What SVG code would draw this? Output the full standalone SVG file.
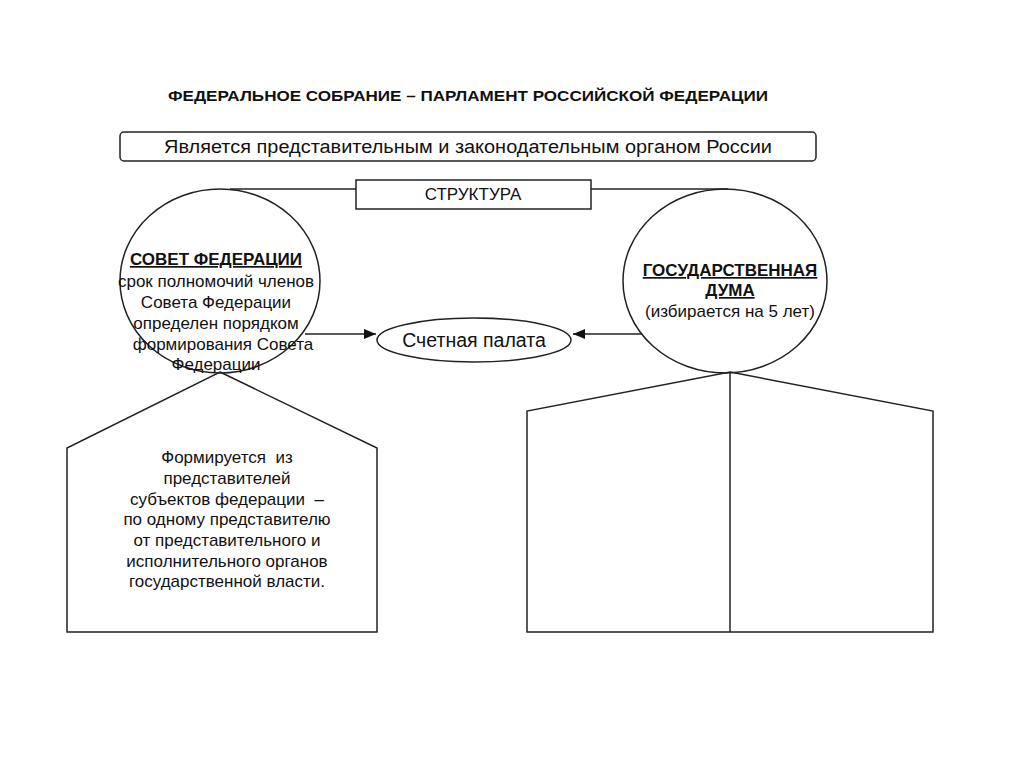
<svg xmlns="http://www.w3.org/2000/svg" width="1024" height="767" viewBox="0 0 1024 767">
<style>
.s{fill:none;stroke:#222;stroke-width:1.5}
.w{fill:#fff;stroke:#222;stroke-width:1.5}
text{font-family:"Liberation Sans",Arial,sans-serif;fill:#111;text-anchor:middle}
.t15{font-size:17px}
.b{font-weight:bold;text-decoration:underline}
</style>
<defs>
<marker id="ah" viewBox="0 0 12 10" refX="12" refY="5" markerWidth="12" markerHeight="10" markerUnits="userSpaceOnUse" orient="auto">
<path d="M0,0 L12,5 L0,10 z" fill="#111"/>
</marker>
</defs>
<rect width="1024" height="767" fill="#fff"/>
<g id="title"><text x="468" y="101" style="font-size:15.5px;font-weight:bold" textLength="600" lengthAdjust="spacingAndGlyphs">ФЕДЕРАЛЬНОЕ СОБРАНИЕ – ПАРЛАМЕНТ РОССИЙСКОЙ ФЕДЕРАЦИИ</text></g>
<g id="definition"><rect x="120" y="132" width="696" height="29" rx="4" class="w"/><text x="468" y="153" style="font-size:18px" textLength="608" lengthAdjust="spacingAndGlyphs">Является представительным и законодательным органом России</text></g>
<g id="connectors">
<line x1="230" y1="189" x2="356" y2="189" class="s"/>
<line x1="591" y1="189" x2="728" y2="189" class="s"/>
<line x1="305" y1="334" x2="376" y2="334" class="s" marker-end="url(#ah)"/>
<line x1="642" y1="334" x2="573" y2="334" class="s" marker-end="url(#ah)"/>
</g>
<g id="structure"><rect x="356" y="180" width="235" height="29" class="w"/><text x="473" y="200" class="t15">СТРУКТУРА</text></g>
<g id="sovet-house"><path d="M220,372 L377,448 L377,632 L67,632 L67,448 Z" class="s"/>
<text class="t15" x="227"><tspan x="227" y="463">Формируется&#160; из</tspan><tspan x="227" y="484">представителей</tspan><tspan x="227" y="505">субъектов федерации&#160; –</tspan><tspan x="227" y="525">по одному представителю</tspan><tspan x="227" y="546">от представительного и</tspan><tspan x="227" y="567">исполнительного органов</tspan><tspan x="227" y="587">государственной власти.</tspan></text></g>
<g id="duma-house"><path d="M730,372 L933,411 L933,632 L527,632 L527,411 Z" class="s"/><line x1="730" y1="372" x2="730" y2="632" class="s"/></g>
<g id="sovet"><ellipse cx="220" cy="281" rx="100" ry="92" class="s"/>
<text class="t15"><tspan x="216" y="265" class="b">СОВЕТ ФЕДЕРАЦИИ</tspan><tspan x="216" y="287">срок полномочий членов</tspan><tspan x="216" y="308">Совета Федерации</tspan><tspan x="216" y="329">определен порядком</tspan><tspan x="223" y="350">формирования Совета</tspan><tspan x="216" y="370">Федерации</tspan></text></g>
<g id="schet"><ellipse cx="474" cy="340" rx="97" ry="22" class="w"/><text x="474" y="347" style="font-size:19.5px">Счетная палата</text></g>
<g id="duma"><ellipse cx="725" cy="281" rx="102" ry="92" class="s"/>
<text class="t15"><tspan x="730" y="276" class="b">ГОСУДАРСТВЕННАЯ</tspan><tspan x="730" y="296" class="b">ДУМА</tspan><tspan x="730" y="317">(избирается на 5 лет)</tspan></text></g>
</svg>
